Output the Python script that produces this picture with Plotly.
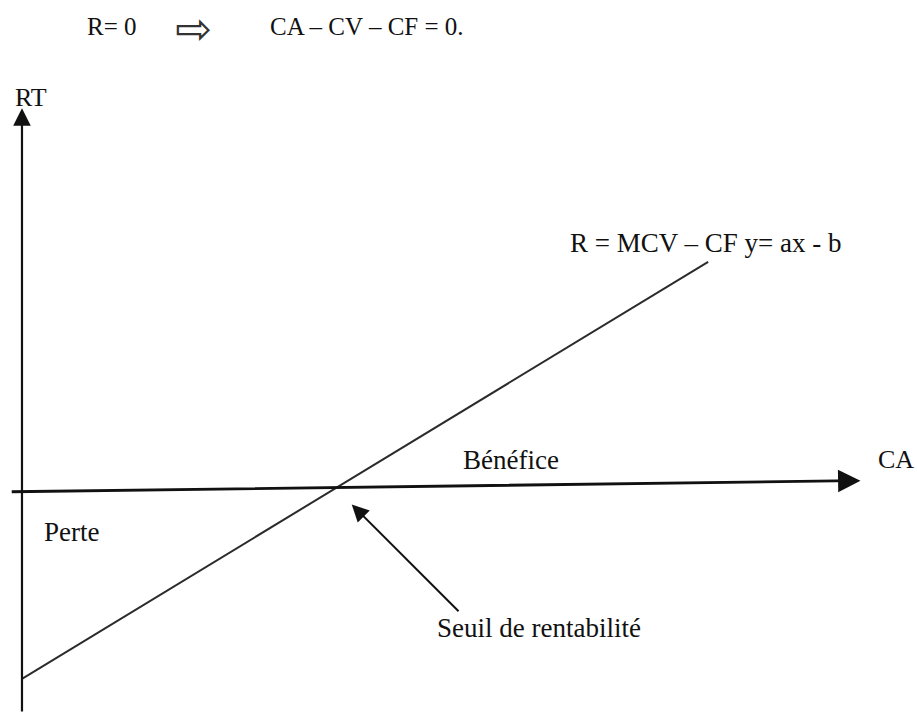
import plotly.graph_objects as go

# Schéma du seuil de rentabilité : R = MCV - CF  (y = ax - b)

# droite de résultat
ca_line = [0.0, 8.74]
r_line = [-2.4, 2.84]

# axe CA (un peu incliné dans le scan d'origine)
ca_axis_x = [-0.15, 10.68]
ca_axis_y = [-0.05, 0.09]

# axe RT
rt_axis_x = [0.0, 0.0]
rt_axis_y = [-2.83, 4.77]

# flèche vers le seuil de rentabilité (queue -> pointe)
seuil_x = [5.58, 4.20]
seuil_y = [-1.57, -0.21]

SERIF = "Liberation Serif, Times New Roman, serif"

fig = go.Figure()

fig.add_trace(go.Scatter(
    x=ca_line, y=r_line, mode="lines",
    line=dict(color="#2b2b2b", width=2),
    hoverinfo="skip",
))


def arrow(xs, ys, width=2.2, size=1.6, color="#111"):
    fig.add_annotation(
        x=xs[1], y=ys[1], ax=xs[0], ay=ys[0],
        xref="x", yref="y", axref="x", ayref="y",
        text="", showarrow=True, arrowhead=2,
        arrowsize=size, arrowwidth=width, arrowcolor=color,
        standoff=0, startstandoff=0,
    )


arrow(ca_axis_x, ca_axis_y, width=2.8)
arrow(rt_axis_x, rt_axis_y, width=2.2)
arrow(seuil_x, seuil_y, width=2, size=1.7)


def label(x, y, txt, size=27, anchor="left", ref="data"):
    if ref == "data":
        fig.add_annotation(x=x, y=y, xref="x", yref="y", text=txt,
                           showarrow=False, xanchor=anchor, yanchor="middle",
                           font=dict(family=SERIF, size=size, color="#111"))
    else:
        fig.add_annotation(x=x, y=y, xref="paper", yref="paper", text=txt,
                           showarrow=False, xanchor=anchor, yanchor="middle",
                           font=dict(family=SERIF, size=size, color="#111"))


label(-0.12, 4.91, "RT", size=26)
label(11.39, 0.36, "CA", size=26, anchor="right")
label(6.23, 0.35, "Bénéfice", anchor="center")
label(0.25, -0.55, "Perte")
label(5.26, -1.76, "Seuil de rentabilité")
label(6.96, 3.08, "R = MCV – CF y= ax - b")

# en-tête : R = 0  =>  CA - CV - CF = 0
label(85 / 917, 1 - 27 / 713, "R= 0", size=25, ref="paper")
fig.add_annotation(x=173 / 917, y=1 - 28 / 713, xref="paper", yref="paper",
                   text="⇨", showarrow=False, xanchor="left", yanchor="middle",
                   font=dict(family="DejaVu Sans", size=44, color="#333"))
label(268 / 917, 1 - 27 / 713, "CA – CV – CF = 0.", size=25, ref="paper")

fig.update_layout(
    width=917, height=713,
    margin=dict(l=0, r=0, t=0, b=0),
    paper_bgcolor="white", plot_bgcolor="white",
    showlegend=False,
    xaxis=dict(range=[-0.28, 11.4], visible=False, fixedrange=True),
    yaxis=dict(range=[-2.83, 6.13], visible=False, fixedrange=True),
)

# pas de marge du <body> : la figure remplit exactement la fenêtre
fig.write_html(
    "out.html",
    config={"displayModeBar": False},
    post_script="document.body.style.margin='0';document.body.style.overflow='hidden';",
)
